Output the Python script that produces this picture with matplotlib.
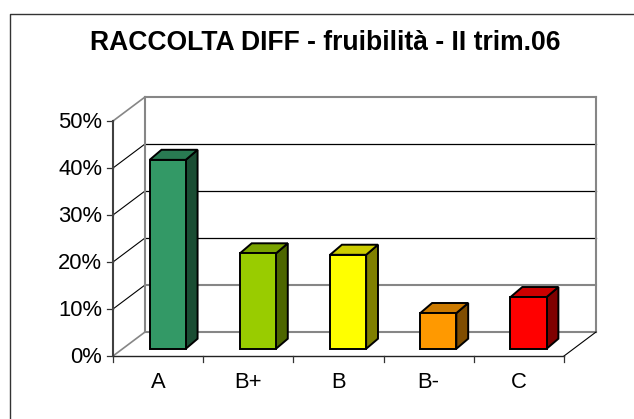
import matplotlib

matplotlib.use("Agg")
import matplotlib.pyplot as plt
from matplotlib.patches import Polygon

plt.rcParams["font.family"] = ["Liberation Sans", "DejaVu Sans"]

categories = ["A", "B+", "B", "B-", "C"]
values = [40.2, 20.3, 20.0, 7.6, 11.0]
front_colors = ["#339966", "#99CC00", "#FFFF00", "#FF9900", "#FF0000"]
top_colors = ["#297A52", "#7AA300", "#CCCC00", "#CC7A00", "#CC0000"]
side_colors = ["#1A4D33", "#4D6600", "#808000", "#804D00", "#800000"]
y_ticks = [0, 10, 20, 30, 40, 50]
title = "RACCOLTA DIFF - fruibilità - II trim.06"

W, H = 634, 419
# front plane of the fake 3d box, in pixels
X0, X1, Y0, Y1 = 113, 564, 356, 121
DX = 32 / (X1 - X0) * len(categories)  # depth offset in data units
DY = 24 / (Y0 - Y1) * 50
BAR_W = 0.40
BAR_X = 0.30 * DX
BAR_Y = 0.30 * DY
BAR_DX = 0.37 * DX
BAR_DY = 0.42 * DY

fig = plt.figure(figsize=(W / 100, H / 100), dpi=100)
# chart frame, only left and top show in the picture
fig.add_artist(plt.Line2D([9.5 / W, 9.5 / W, 1], [0, 1 - 14.5 / H, 1 - 14.5 / H], color="#333333",
                          lw=1.0, transform=fig.transFigure))
ax = fig.add_axes([X0 / W, 1 - Y0 / H, (X1 - X0) / W, (Y0 - Y1) / H])
ax.set_xlim(0, len(categories))
ax.set_ylim(0, 50)
ax.axis("off")

n = len(categories)
grey = "#868686"

# back wall gridlines and side diagonals
for t in y_ticks:
    col = grey if t in (0, 10, 50) else "black"
    lw = 1.5 if t in (0, 10, 50) else 0.9
    ax.plot([DX, n + DX], [t + DY, t + DY], color=col, lw=lw, clip_on=False, zorder=1)
    ax.plot([0, DX], [t, t + DY], color=grey if t in (0, 50) else "black",
            lw=1.2 if t in (0, 50) else 0.8, clip_on=False, zorder=1)
    ax.plot([-0.065, 0], [t, t], color="#333333", lw=0.9, clip_on=False, zorder=2)
    ax.text(-0.12, t - 0.4, f"{t}%", ha="right", va="center", fontsize=15.8, clip_on=False)

ax.plot([DX, DX], [DY, 50 + DY], color=grey, lw=1.5, clip_on=False, zorder=1)
ax.plot([n + DX, n + DX], [DY, 50 + DY], color=grey, lw=1.5, clip_on=False, zorder=1)
ax.plot([n, n + DX], [0, DY], color="black", lw=0.8, clip_on=False, zorder=1)

# front axes
ax.plot([0, 0], [0, 50], color="#404040", lw=1.5, clip_on=False, zorder=2)
ax.plot([0, n], [0, 0], color="#222222", lw=1.0, clip_on=False, zorder=2)
for i in range(n + 1):
    ax.plot([i, i], [0, -1.2], color="#333333", lw=0.9, clip_on=False, zorder=2)

# bars
for i, (cat, v) in enumerate(zip(categories, values)):
    x = i + 0.5 - BAR_W / 2 + BAR_X
    y = BAR_Y
    top = y + v
    front = [(x, y), (x + BAR_W, y), (x + BAR_W, top), (x, top)]
    side = [(x + BAR_W, y), (x + BAR_W + BAR_DX, y + BAR_DY),
            (x + BAR_W + BAR_DX, top + BAR_DY), (x + BAR_W, top)]
    cap = [(x, top), (x + BAR_W, top), (x + BAR_W + BAR_DX, top + BAR_DY),
           (x + BAR_DX, top + BAR_DY)]
    for pts, c in ((side, side_colors[i]), (cap, top_colors[i]), (front, front_colors[i])):
        ax.add_patch(Polygon(pts, closed=True, fc=c, ec="black", lw=1.4, joinstyle="miter",
                             clip_on=False, zorder=3))
    ax.text(i + 0.5, -5.6, cat, ha="center", va="center", fontsize=15.8, clip_on=False)

fig.text(325 / W, 1 - 43 / H, title, ha="center", va="center", fontsize=19.1,
         fontweight="bold")

fig.savefig("out.png", dpi=100)
